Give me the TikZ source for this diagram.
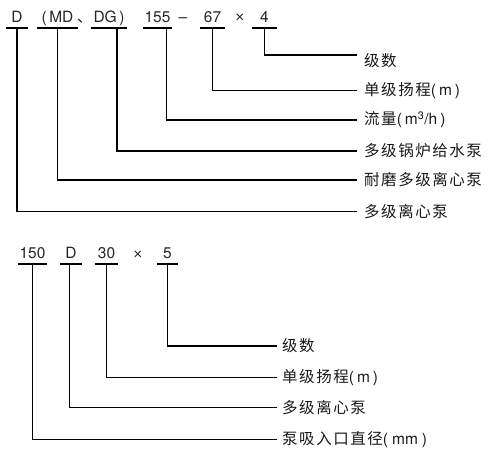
\documentclass[tikz,border=0pt]{standalone}
\usepackage{fontspec}
\setmainfont{TeX Gyre Heros}
\newfontfamily\cjk[LetterSpace=10]{Noto Sans CJK SC}
\newfontfamily\symf{Liberation Sans}
\newcommand{\lat}[1]{{\normalfont #1}}
\tikzset{
  tok/.style={anchor=south, text depth=0pt, inner xsep=0pt, inner ysep=5pt, font=\fontsize{15.5}{15.5}\selectfont, text=black!85},
  sym/.style={anchor=base, inner sep=0pt, font=\fontsize{15.5}{15.5}\selectfont, text=black!85},
  lbl/.style={anchor=west, inner xsep=7pt, inner ysep=1pt, font=\fontsize{15.5}{15.5}\selectfont\cjk, text=black!90},
  uline/.style={line width=1.5pt},
  conn/.style={line width=1.5pt, line join=miter}
}
\begin{document}
\begin{tikzpicture}[x=1pt,y=-1pt]
\useasboundingbox (0,0) rectangle (496,460);
% upper code D(MD,DG)155-67x4
\node[tok,minimum width=22pt] (tD) at (17,28) {D};
\node[tok,minimum width=41pt] (tMD) at (57.5,28) {(\hspace{2.5pt}MD};
\node[sym,anchor=base west] (comma) at (77,23) {\cjk 、};
\node[tok,minimum width=36pt] (tDG) at (109,28) {DG\hspace{2.5pt})};
\node[tok,minimum width=29pt] (t155) at (157.5,28) {155};
\node[sym] (dash) at (183,23) {--};
\node[tok,minimum width=25pt] (t67) at (212.5,28) {67};
\node[sym] (timesA) at (240,23) {\symf ×};
\node[tok,minimum width=25pt] (t4) at (264.5,28) {4};

\node[lbl] (stages) at (357,61) {级数};
\node[lbl] (head) at (357,90.7) {单级扬程\lat{(\hspace{3pt}m\hspace{3pt})}};
\node[lbl] (flow) at (357,120) {流量\lat{(\hspace{3pt}m\textsuperscript{3}/h\hspace{3pt})}};
\node[lbl] (boiler) at (357,151) {多级锅炉给水泵};
\node[lbl] (wear) at (357,180) {耐磨多级离心泵};
\node[lbl] (multi) at (357,211.7) {多级离心泵};

\draw[conn] (t4.south) |- ([yshift=6pt]stages.west);
\draw[conn] (t67.south) |- (head.west);
\draw[conn] ([xshift=9pt]t155.south) |- (flow.west);
\draw[conn] ([xshift=8pt]tDG.south) |- (boiler.west);
\draw[conn] (tMD.south) |- (wear.west);
\draw[conn] (tD.south) |- (multi.west);

% lower code 150D30x5
\node[tok,minimum width=29pt] (b150) at (32.5,264) {150};
\node[tok,minimum width=22pt] (bD) at (71,264) {D};
\node[tok,minimum width=23pt] (b30) at (106.5,264) {30};
\node[sym] (timesB) at (138,259) {\symf ×};
\node[tok,minimum width=21pt] (b5) at (167.5,264) {5};

\node[lbl,inner xsep=5pt] (stagesB) at (277,346) {级数};
\node[lbl,inner xsep=5pt] (headB) at (277,377.7) {单级扬程\lat{(\hspace{3pt}m\hspace{3pt})}};
\node[lbl,inner xsep=5pt] (multiB) at (277,407.7) {多级离心泵};
\node[lbl,inner xsep=5pt] (inlet) at (277,439.3) {泵吸入口直径\lat{(\hspace{4pt}mm\hspace{4pt})}};

\draw[conn] (b5.south) |- (stagesB.west);
\draw[conn] (b30.south) |- (headB.west);
\draw[conn] ([xshift=-1.5pt]bD.south) |- (multiB.west);
\draw[conn] (b150.south) |- (inlet.west);

\foreach \n in {tD,tMD,tDG,t155,t67,t4,b150,bD,b30,b5}
  \draw[uline] (\n.south west) -- (\n.south east);
\end{tikzpicture}
\end{document}
